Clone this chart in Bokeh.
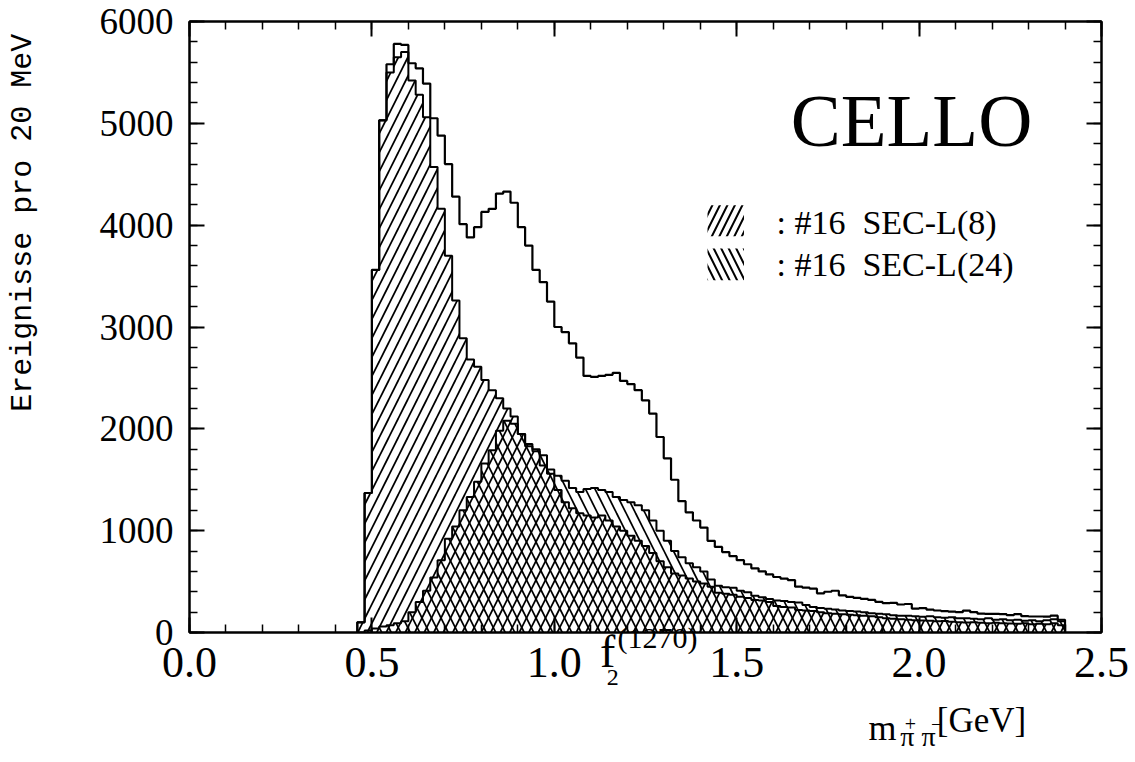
import numpy as np
from bokeh.plotting import figure
from bokeh.layouts import row
from bokeh.models import (Range1d, FixedTicker, LinearAxis, Label, BoxAnnotation,
                          NumeralTickFormatter)
from bokeh.core.properties import value
from bokeh.embed import file_html
from bokeh.resources import INLINE

# ---------------- data (events per 20 MeV bin) ----------------
bin_start = 0.46
bin_width = 0.02

total = [100, 1370, 3560, 5030, 5580, 5780, 5770, 5590, 5540, 5390,
         5050, 4880, 4600, 4280, 4010, 3880, 3980, 4130, 4160, 4310,
         4330, 4220, 3980, 3800, 3560, 3440, 3250, 3000, 2950, 2840,
         2700, 2520, 2510, 2520, 2530, 2550, 2470, 2440, 2380, 2280,
         2150, 1920, 1710, 1500, 1290, 1180, 1100, 1030, 900, 840,
         790, 750, 710, 670, 630, 600, 570, 545, 530, 515,
         450, 440, 430, 385, 400, 410, 365, 350, 340, 330,
         320, 300, 288, 290, 275, 280, 235, 240, 225, 216,
         210, 205, 200, 215, 200, 185, 183, 183, 180, 170,
         180, 160, 157, 157, 155, 165, 125]

sec_l8 = [100, 1370, 3560, 5030, 5500, 5650, 5700, 5420, 5280, 5060,
          4570, 4160, 3700, 3260, 2890, 2680, 2610, 2480, 2380, 2300,
          2200, 2120, 1950, 1850, 1780, 1640, 1560, 1400, 1280, 1220,
          1170, 1150, 1130, 1150, 1100, 1040, 1000, 950, 900, 850,
          780, 700, 640, 580, 560, 530, 500, 480, 450, 390,
          380, 370, 350, 340, 320, 314, 300, 260, 250, 245,
          220, 216, 210, 200, 190, 185, 180, 175, 170, 165,
          160, 150, 140, 135, 130, 125, 120, 118, 115, 110,
          112, 105, 100, 98, 100, 95, 92, 95, 90, 88,
          85, 90, 80, 85, 80, 90, 70]

sec_l24 = [0, 20, 40, 60, 70, 90, 110, 200, 300, 410,
           540, 710, 920, 1040, 1200, 1330, 1480, 1660, 1790, 1980,
           2080, 2050, 1950, 1830, 1800, 1740, 1600, 1540, 1490, 1420,
           1380, 1410, 1420, 1400, 1380, 1330, 1300, 1280, 1250, 1200,
           1100, 1000, 900, 800, 740, 680, 640, 600, 520, 460,
           445, 440, 410, 395, 360, 347, 330, 314, 310, 300,
           295, 270, 250, 240, 232, 225, 216, 210, 205, 200,
           190, 185, 180, 170, 165, 165, 160, 155, 160, 150,
           145, 150, 140, 140, 135, 130, 140, 125, 130, 120,
           125, 115, 120, 110, 120, 130, 110]

x_ticks = [0.0, 0.5, 1.0, 1.5, 2.0, 2.5]
x_minor = [round(0.1 * k, 2) for k in range(26)]
y_ticks = [0, 1000, 2000, 3000, 4000, 5000, 6000]
y_minor = list(range(0, 6001, 200))

legend_labels = [": #16\u00a0 SEC-L(8)", ": #16\u00a0 SEC-L(24)"]
y_title = "Ereignisse pro 20 MeV"

# text rows written under the x axis: (x position in GeV, text, font size, standoff)
# -> the f_2(1270) resonance marker and the axis title m_{pi+ pi-} [GeV]
under_axis_texts = [
    ([1.146], ["f"], "46px", -54),
    ([1.283], ["(1270)"], "30px", -59),
    ([1.16], ["2"], "24px", -10),
    ([2.171], ["[GeV]"], "35px", 13),
    ([1.90], ["m"], "36px", -35),
    ([1.976, 2.048], ["+", "\u2212"], "20px", -34),
    ([1.968, 2.026], ["\u03c0", "\u03c0"], "28px", -30),
]

# ---------------- helpers ----------------
edges = bin_start + bin_width * np.arange(len(total) + 1)


def step_path(vals):
    xs = np.repeat(edges, 2)
    ys = np.concatenate([[0.0], np.repeat(np.asarray(vals, float), 2), [0.0]])
    return xs, ys


serif = "Liberation Serif"

# ---------------- main figure ----------------
p = figure(width=1075, height=762, output_backend="svg", toolbar_location=None,
           x_range=Range1d(0, 2.5), y_range=Range1d(0, 6000),
           min_border_left=129, min_border_right=34, min_border_top=21,
           min_border_bottom=130)
p.background_fill_color = "white"
p.border_fill_color = "white"
p.outline_line_color = "black"
p.outline_line_width = 2
p.xgrid.visible = False
p.ygrid.visible = False


def style_axis(ax, font_size, show_labels=True):
    ax.axis_line_color = "black"
    ax.axis_line_width = 2
    ax.major_tick_in = 15
    ax.major_tick_out = 0
    ax.minor_tick_in = 8
    ax.minor_tick_out = 0
    ax.major_tick_line_width = 2
    ax.minor_tick_line_width = 1.5
    ax.major_tick_line_color = "black"
    ax.minor_tick_line_color = "black"
    ax.major_label_text_font = serif
    ax.major_label_text_color = "black" if show_labels else None
    ax.major_label_text_font_size = font_size if show_labels else "0px"
    if not show_labels:
        ax.major_label_standoff = 0


def bare_axis(ticker, size, standoff, formatter=None, overrides=None):
    ax = LinearAxis(ticker=ticker)
    if formatter is not None:
        ax.formatter = formatter
    if overrides:
        ax.major_label_overrides = overrides
    ax.axis_line_color = None
    ax.major_tick_line_color = None
    ax.minor_tick_line_color = None
    ax.major_tick_in = 0
    ax.major_tick_out = 0
    ax.minor_tick_in = 0
    ax.minor_tick_out = 0
    ax.major_label_text_font = serif
    ax.major_label_text_font_size = size
    ax.major_label_text_color = "black"
    ax.major_label_standoff = standoff
    p.add_layout(ax, "below")
    return ax


xticker = FixedTicker(ticks=x_ticks, minor_ticks=x_minor)
yticker = FixedTicker(ticks=y_ticks, minor_ticks=y_minor)

# bottom axis 1: tick marks on the frame only
p.xaxis.ticker = xticker
style_axis(p.xaxis[0], "0px", show_labels=False)

# bottom axis 2: numeric tick labels
bare_axis(FixedTicker(ticks=x_ticks, minor_ticks=[]), "44px", 15,
          formatter=NumeralTickFormatter(format="0.0"))

# further text rows under the axis
for xs_, txt, fs, so in under_axis_texts:
    bare_axis(FixedTicker(ticks=xs_, minor_ticks=[]), fs, so,
              overrides=dict(zip(xs_, txt)))

p.yaxis.ticker = yticker
style_axis(p.yaxis[0], "37px")
p.yaxis.major_label_standoff = 16

top_ax = LinearAxis(ticker=xticker)
style_axis(top_ax, "0px", show_labels=False)
p.add_layout(top_ax, "above")
right_ax = LinearAxis(ticker=yticker)
style_axis(right_ax, "0px", show_labels=False)
p.add_layout(right_ax, "right")

# ---------------- histograms ----------------
hatch_kw = dict(fill_alpha=0, hatch_color="black", hatch_scale=19, hatch_weight=1.7)

xa, ya = step_path(sec_l8)
xb, yb = step_path(sec_l24)
xt, yt = step_path(total)

p.varea(x=xa, y1=np.zeros_like(ya), y2=ya, hatch_pattern="/", **hatch_kw)
p.varea(x=xb, y1=np.zeros_like(yb), y2=yb, hatch_pattern="\\", **hatch_kw)
p.line(xa, ya, line_color="black", line_width=2)
p.line(xb, yb, line_color="black", line_width=2)
p.line(xt, yt, line_color="black", line_width=2.2)

# ---------------- annotations inside the frame ----------------
p.add_layout(BoxAnnotation(left=1.42, right=1.52, bottom=3890, top=4195,
                           fill_alpha=0, line_alpha=0, hatch_pattern="/",
                           hatch_color="black", hatch_scale=15, hatch_weight=2))
p.add_layout(BoxAnnotation(left=1.42, right=1.52, bottom=3460, top=3770,
                           fill_alpha=0, line_alpha=0, hatch_pattern="\\",
                           hatch_color="black", hatch_scale=15, hatch_weight=2))

for lab, yy in zip(legend_labels, [410, 368]):
    p.add_layout(Label(x=587, y=yy, x_units="screen", y_units="screen", text=lab,
                       text_font=serif, text_font_size="34px", text_color="black",
                       text_align="left", text_baseline="middle"))

p.add_layout(Label(x=722, y=512, x_units="screen", y_units="screen", text="CELLO",
                   text_font=serif, text_font_size="75px", text_color="black",
                   text_align="center", text_baseline="middle"))

# ---------------- left strip: y axis title ----------------
left = figure(width=60, height=762, output_backend="svg", toolbar_location=None,
              x_range=Range1d(0, 60), y_range=Range1d(0, 762),
              x_axis_type=None, y_axis_type=None, min_border=0)
left.outline_line_color = None
left.background_fill_color = "white"
left.border_fill_color = "white"
left.text(x=[22], y=[511], text=[y_title], angle=np.pi / 2,
          text_font=value("Liberation Mono"), text_font_size="30px",
          text_color="black", text_align="center", text_baseline="middle")

layout = row(left, p, spacing=0)

open("out.html", "w").write(file_html(layout, INLINE))
